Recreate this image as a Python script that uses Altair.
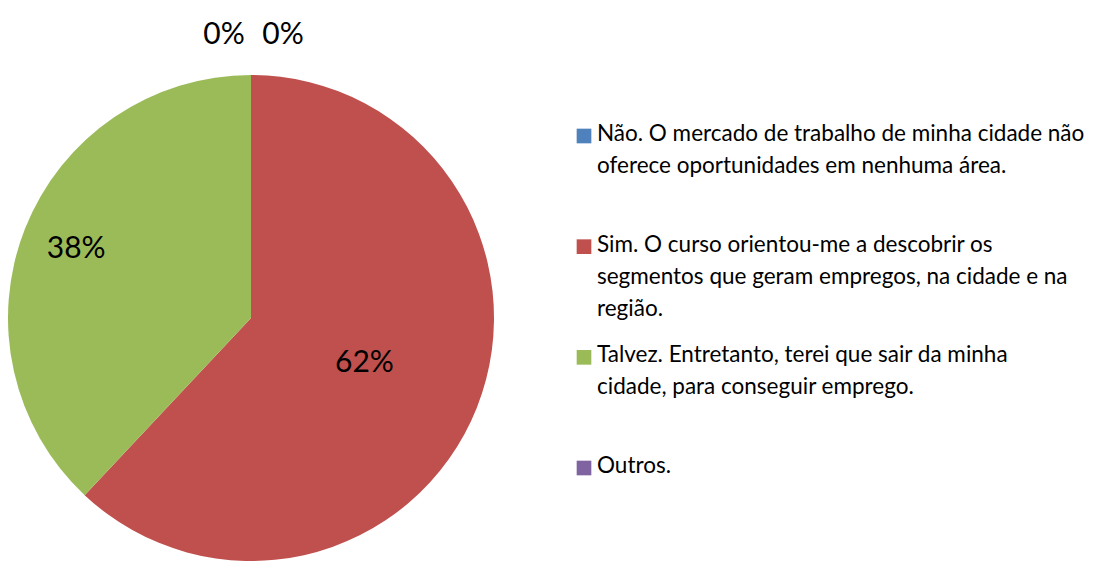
import altair as alt
import pandas as pd

categories = [
    "Não. O mercado de trabalho de minha cidade não oferece oportunidades em nenhuma área.",
    "Sim. O curso orientou-me a descobrir os segmentos que geram empregos, na cidade e na região.",
    "Talvez. Entretanto, terei que sair da minha cidade, para conseguir emprego.",
    "Outros.",
]
values = [0, 62, 38, 0]
value_labels = ["0%", "62%", "38%", "0%"]
legend_labels = [
    "Não. O mercado de trabalho de minha cidade não\noferece oportunidades em nenhuma área.",
    "Sim. O curso orientou-me a descobrir os\nsegmentos que geram empregos, na cidade e na\nregião.",
    "Talvez. Entretanto, terei que sair da minha\ncidade, para conseguir emprego.",
    "Outros.",
]
colors = ["#4F81BD", "#C0504D", "#9BBB59", "#8064A2"]

df = pd.DataFrame({"category": categories, "value": values, "label": value_labels})
leg = pd.DataFrame({"category": categories, "text": legend_labels})

FONT = "Lato"
CX, CY = 243, 310
R = 243

color_scale = alt.Scale(domain=categories, range=colors)

base = (
    alt.Chart(df)
    .transform_window(idx="row_number()")
    .encode(
        theta=alt.Theta("value:Q", stack=True),
        order=alt.Order("idx:Q"),
        x=alt.value(CX),
        y=alt.value(CY),
    )
)

pie = base.mark_arc(outerRadius=R).encode(
    color=alt.Color("category:N", scale=color_scale, legend=None)
)


def label_layer(cat, radius, dx=0, dy=0):
    return base.mark_text(
        radius=radius, dx=dx, dy=dy, font=FONT, fontSize=30, color="#000000",
        align="center", baseline="middle",
    ).encode(
        text="label:N",
        opacity=alt.condition(alt.datum.category == cat, alt.value(1), alt.value(0)),
    )


labels = [
    label_layer(categories[1], 122),
    label_layer(categories[2], 188),
    label_layer(categories[0], 283, dx=32),
    label_layer(categories[3], 283, dx=-27),
]

ly = alt.Y(
    "category:N",
    scale=alt.Scale(type="point", domain=categories, range=[128, 460], padding=0),
    axis=None,
)

leg_sq = (
    alt.Chart(leg)
    .mark_square(size=215, opacity=1)
    .encode(
        x=alt.value(576),
        y=ly,
        color=alt.Color("category:N", scale=color_scale, legend=None),
    )
)

leg_txt = (
    alt.Chart(leg)
    .mark_text(
        align="left", baseline="top", dy=-13, font=FONT, fontSize=22.5,
        lineBreak="\n", lineHeight=32, color="#000000",
    )
    .encode(x=alt.value(589), y=ly, text="text:N")
)

chart = (
    alt.layer(pie, *labels, leg_sq, leg_txt)
    .properties(
        width=1077,
        height=553,
        padding=0,
        autosize=alt.AutoSizeParams(type="none"),
    )
    .configure_view(stroke=None)
)

chart.save("out.html", embed_options={"renderer": "svg", "actions": False})
